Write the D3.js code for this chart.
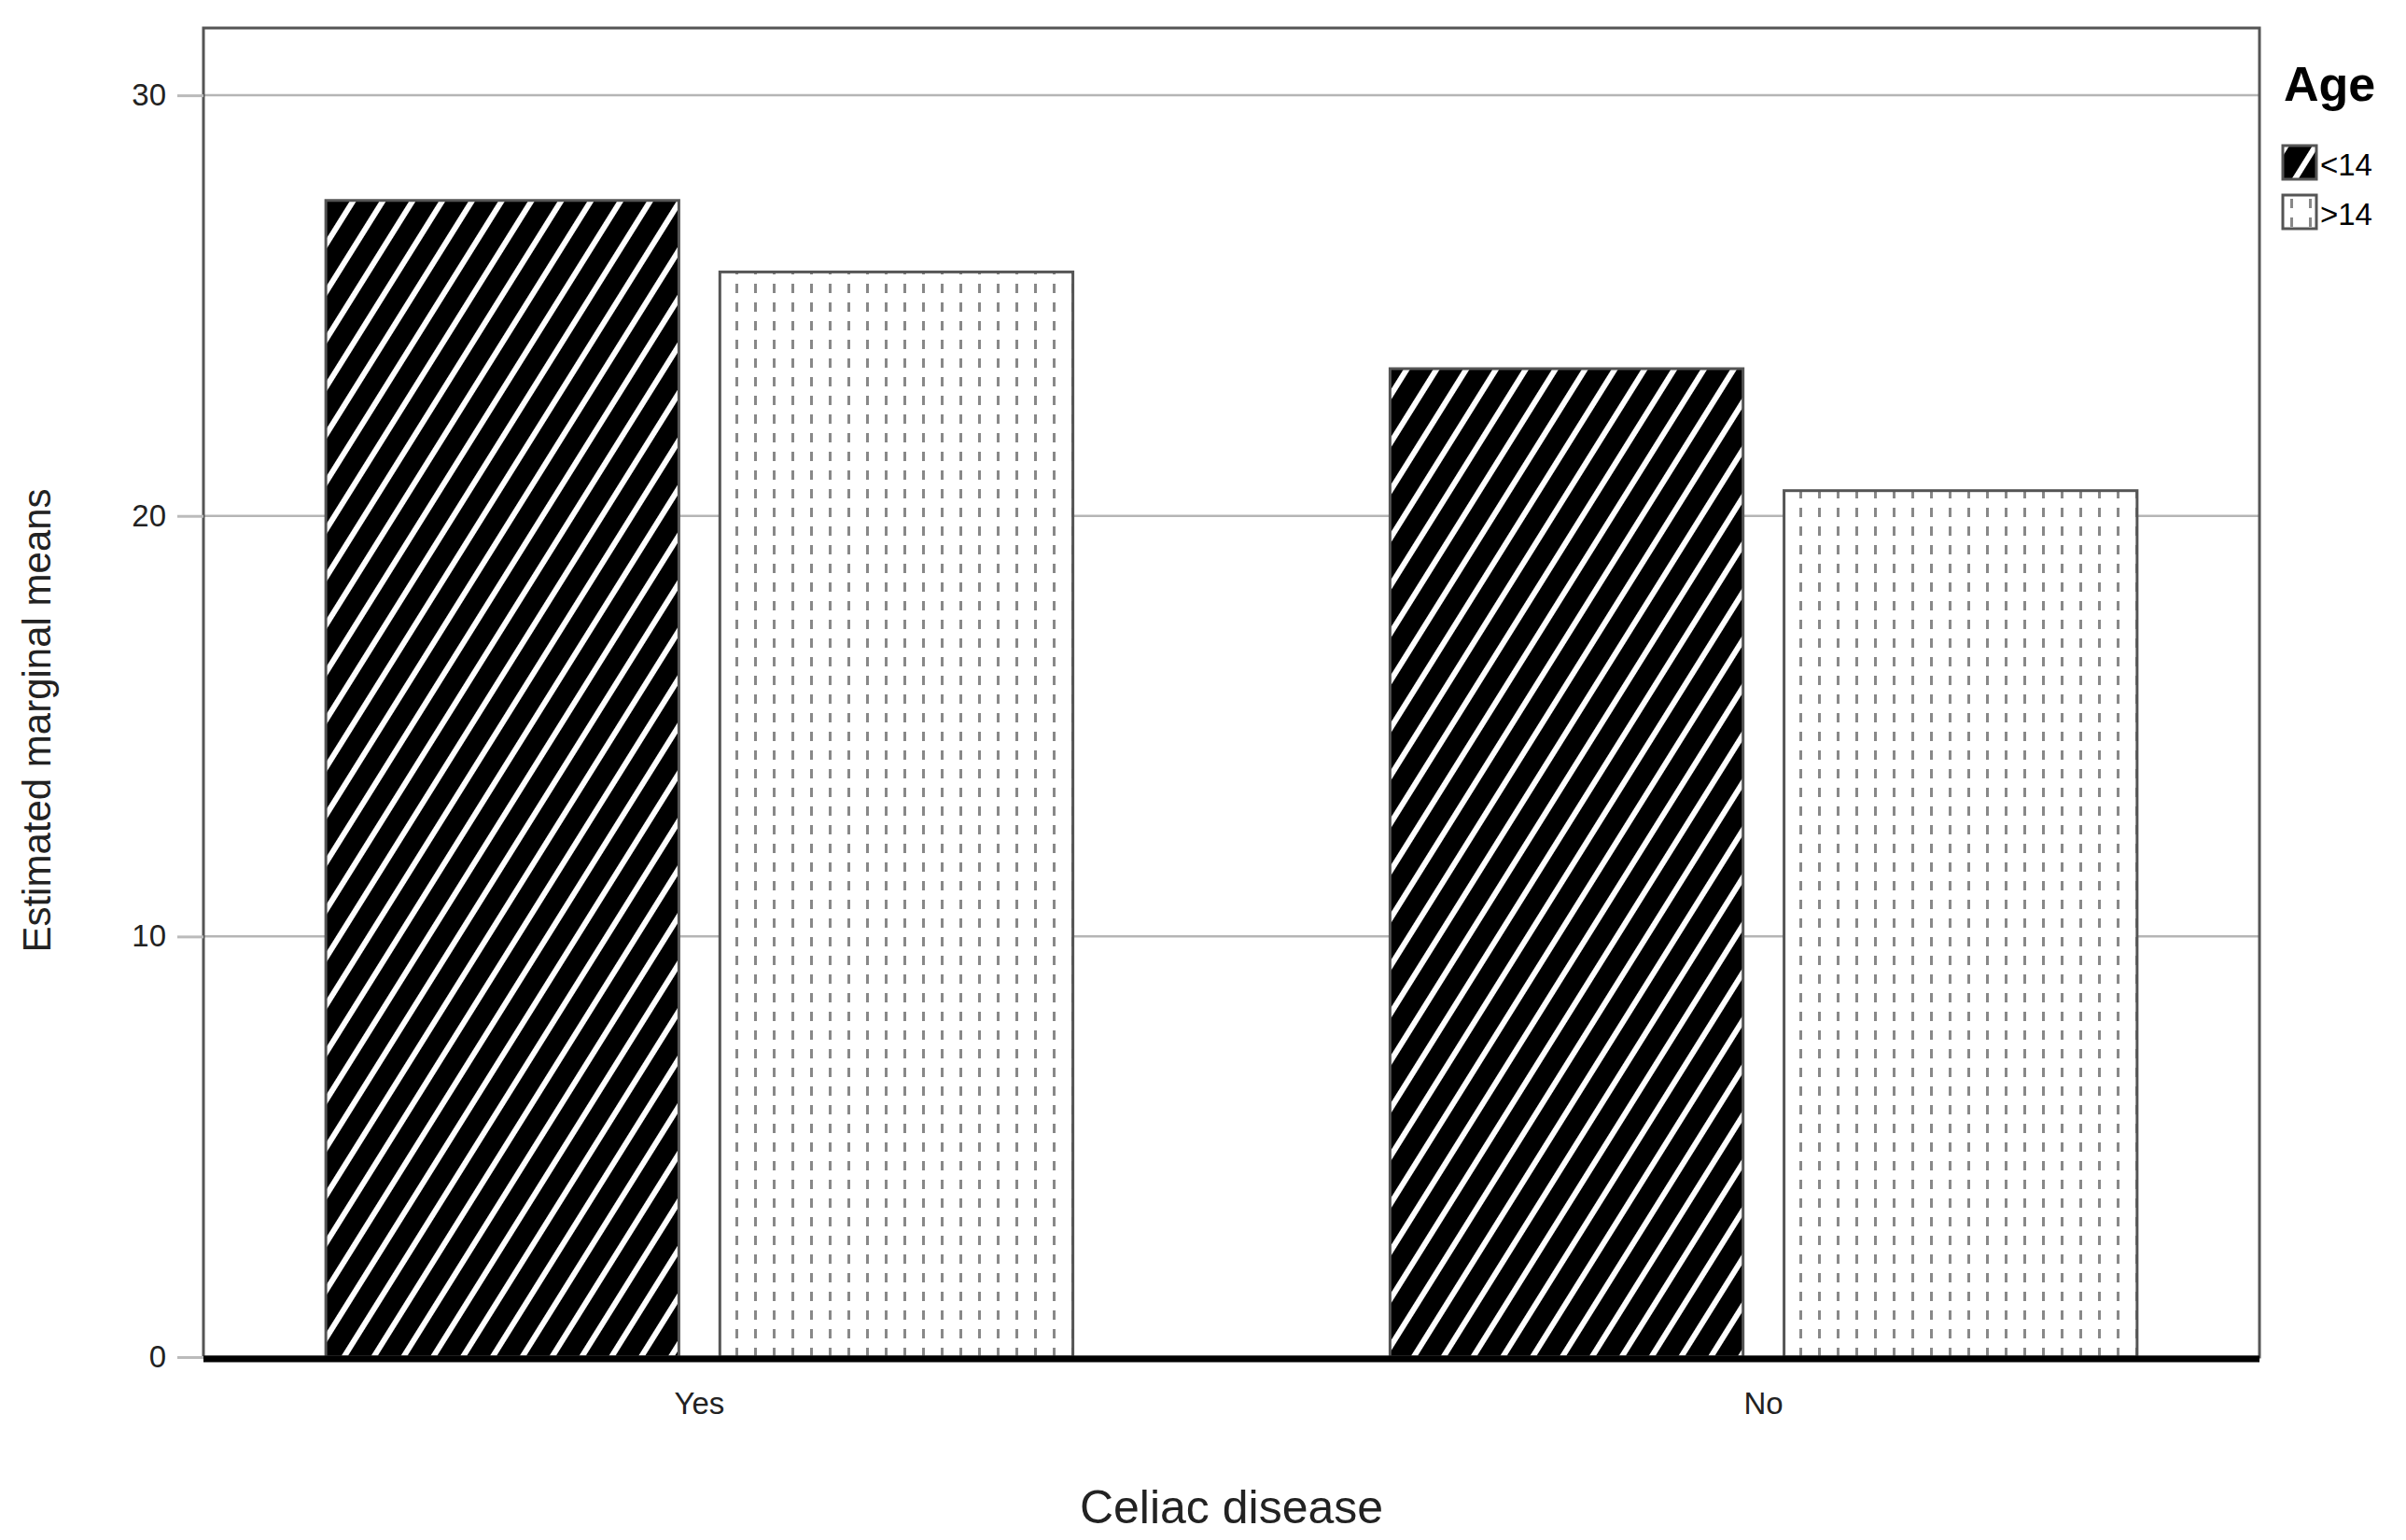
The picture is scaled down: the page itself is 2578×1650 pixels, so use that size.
<!DOCTYPE html>
<html><head><meta charset="utf-8">
<script src="https://cdn.jsdelivr.net/npm/d3@7"></script>
<style>body{margin:0;background:#fff}svg{display:block}text{font-family:"Liberation Sans",Arial,sans-serif}</style>
</head><body>
<script>
const categories = ["Yes", "No"];
const groups = ["<14", ">14"];
const valuesLt14 = [27.5, 23.5];
const valuesGt14 = [25.8, 20.6];
const yTicks = [0, 10, 20, 30];

const W = 2578, H = 1650;
const L = 218, R = 2421, T = 30, B = 1454;
const svg = d3.select("body").append("svg").attr("width", W).attr("height", H);
const defs = svg.append("defs");
const p1 = defs.append("pattern").attr("id", "diag").attr("patternUnits", "userSpaceOnUse")
  .attr("width", 27).attr("height", 27).attr("patternTransform", "rotate(32)");
p1.append("rect").attr("width", 27).attr("height", 27).attr("fill", "#000");
p1.append("rect").attr("x", 0).attr("width", 6).attr("height", 27).attr("fill", "#fff");
const p2 = defs.append("pattern").attr("id", "dots").attr("patternUnits", "userSpaceOnUse")
  .attr("width", 20).attr("height", 20);
p2.append("rect").attr("width", 20).attr("height", 20).attr("fill", "#fff");
p2.append("rect").attr("x", 8).attr("y", 4).attr("width", 3).attr("height", 10).attr("fill", "#888");

const y = d3.scaleLinear().domain([0, 31.6]).range([B, T]);
const x0 = d3.scaleBand().domain(categories).range([L, R]).paddingInner(0.298).paddingOuter(0.115);
const x1 = d3.scaleBand().domain(groups).range([0, x0.bandwidth()]).paddingInner(0.104);
const fills = {"<14": "url(#diag)", ">14": "url(#dots)"};

// grid
svg.append("g").selectAll("line").data(yTicks.filter(d => d > 0)).join("line")
  .attr("x1", L).attr("x2", R).attr("y1", d => y(d)).attr("y2", d => y(d))
  .attr("stroke", "#b5b5b5").attr("stroke-width", 2.5);

// bars
const data = [];
categories.forEach((c, i) => {
  data.push({c, g: "<14", v: valuesLt14[i]});
  data.push({c, g: ">14", v: valuesGt14[i]});
});
svg.append("g").selectAll("rect").data(data).join("rect")
  .attr("x", d => x0(d.c) + x1(d.g)).attr("width", x1.bandwidth())
  .attr("y", d => y(d.v)).attr("height", d => B - y(d.v))
  .attr("fill", d => fills[d.g]).attr("stroke", "#555").attr("stroke-width", 3);

// frame
svg.append("rect").attr("x", L).attr("y", T).attr("width", R - L).attr("height", B - T)
  .attr("fill", "none").attr("stroke", "#555").attr("stroke-width", 3);
svg.append("line").attr("x1", L).attr("x2", R).attr("y1", B + 2).attr("y2", B + 2)
  .attr("stroke", "#000").attr("stroke-width", 7);

// y axis
const ya = svg.append("g").attr("transform", `translate(${L},0)`)
  .call(d3.axisLeft(y).tickValues(yTicks).tickSize(28).tickPadding(12));
ya.select(".domain").remove();
ya.selectAll("line").attr("stroke", "#bbb").attr("stroke-width", 3);
ya.selectAll("text").attr("font-size", 33).attr("fill", "#222");

// x axis
const xa = svg.append("g").attr("transform", `translate(0,${B})`)
  .call(d3.axisBottom(x0).tickSize(0).tickPadding(38));
xa.select(".domain").remove();
xa.selectAll("text").attr("font-size", 33).attr("fill", "#222");

svg.append("text").attr("x", (L + R) / 2).attr("y", 1632).attr("text-anchor", "middle")
  .attr("font-size", 50).attr("fill", "#222").text("Celiac disease");
svg.append("text").attr("transform", `translate(54,${(T + B) / 2 + 30}) rotate(-90)`)
  .attr("text-anchor", "middle").attr("font-size", 42).attr("fill", "#222").text("Estimated marginal means");

// legend
svg.append("text").attr("x", 2447).attr("y", 108).attr("font-size", 52).attr("font-weight", "bold").text("Age");
const lg = svg.append("g").selectAll("g").data(groups).join("g")
  .attr("transform", (d, i) => `translate(2446,${156 + i * 53})`);
lg.append("rect").attr("width", 36).attr("height", 36).attr("fill", d => fills[d])
  .attr("stroke", "#555").attr("stroke-width", 3);
lg.append("text").attr("x", 40).attr("y", 32).attr("font-size", 33).text(d => d);
</script>
</body></html>
